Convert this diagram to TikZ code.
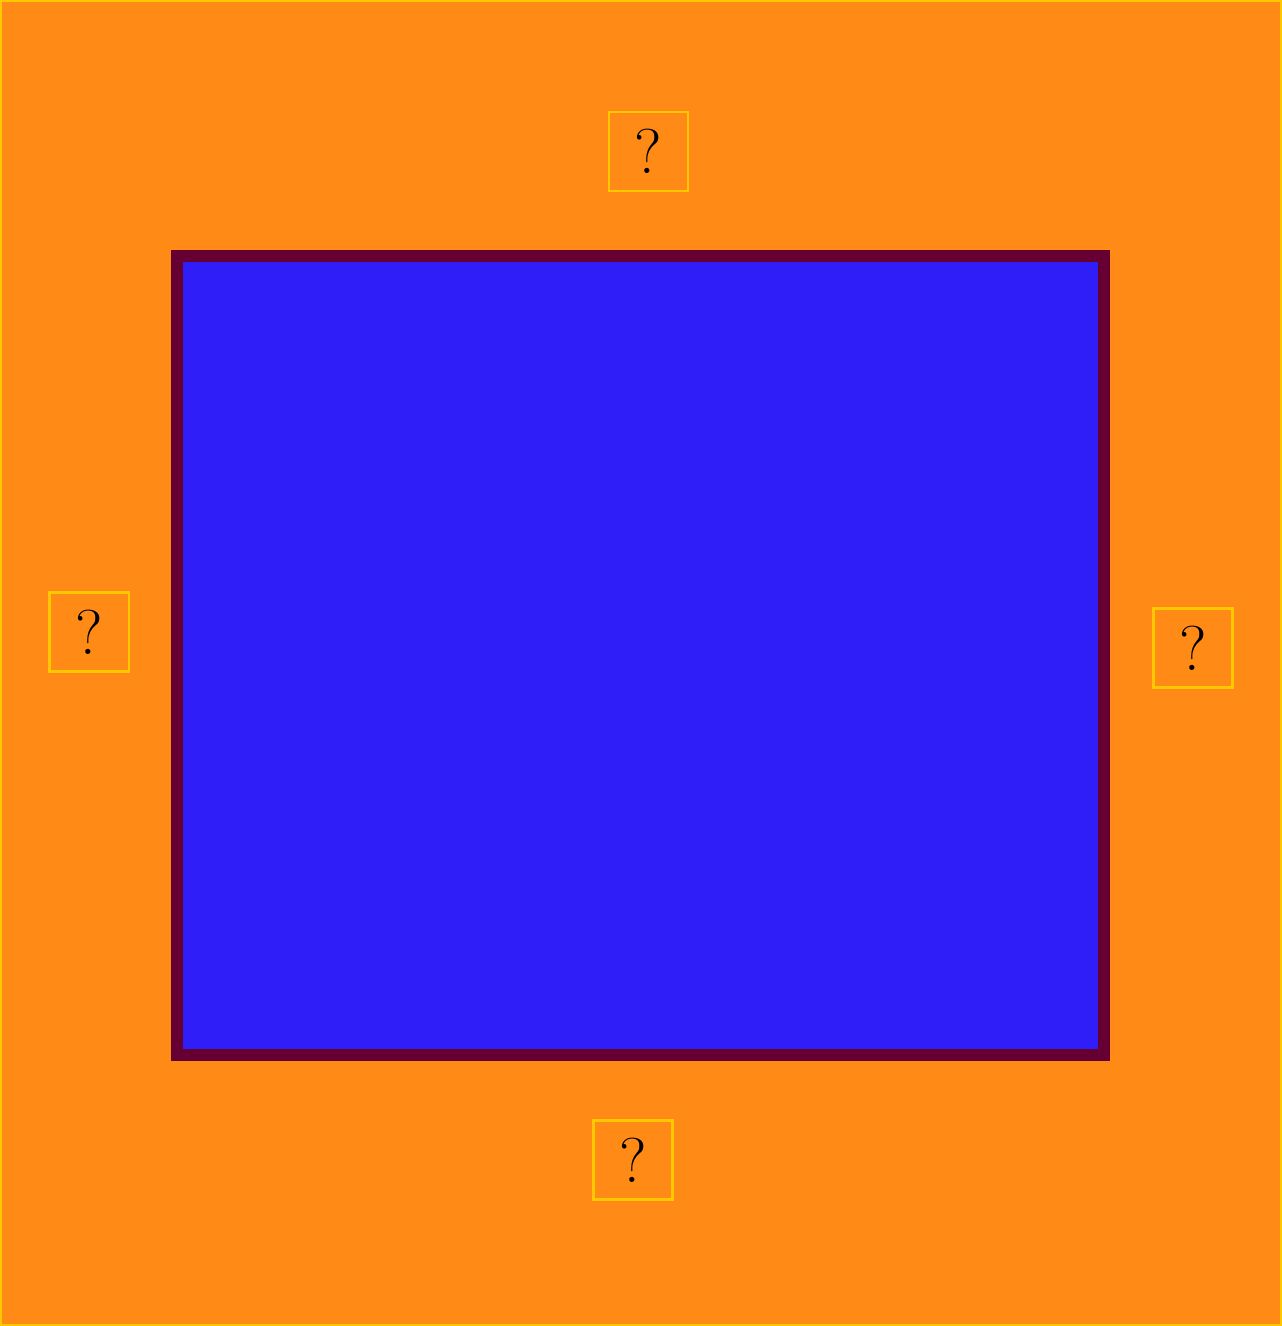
\documentclass[tikz,border=0pt]{standalone}
\usepackage{tikz}
\usetikzlibrary{positioning}
\definecolor{FrameOrange}{RGB}{255,138,22}
\definecolor{EdgeYellow}{RGB}{255,200,0}
\definecolor{CoreBlue}{RGB}{48,30,248}
\definecolor{RimPurple}{RGB}{102,0,51}

\begin{document}
\begin{tikzpicture}[x=0.01cm,y=-0.01cm,
  qbox/.style={draw=EdgeYellow,line width=0.6pt,minimum size=0.79cm,inner sep=0pt,
    font=\fontsize{18}{21}\selectfont}]
  \fill[FrameOrange] (0,0) rectangle (1282,1326);
  \draw[EdgeYellow,line width=0.6pt] (1,1) rectangle (1281,1325);
  \useasboundingbox (0,0) rectangle (1282,1326);
  \draw[RimPurple,fill=CoreBlue,line width=0.12cm] (177,256) rectangle (1104,1055);
  \node[qbox] (qtop) at (648.5,151.5) {?};
  \node[qbox] (qleft) at (89,632) {?};
  \node[qbox] (qright) at (1193,648) {?};
  \node[qbox] (qbottom) at (633,1160) {?};
\end{tikzpicture}
\end{document}
